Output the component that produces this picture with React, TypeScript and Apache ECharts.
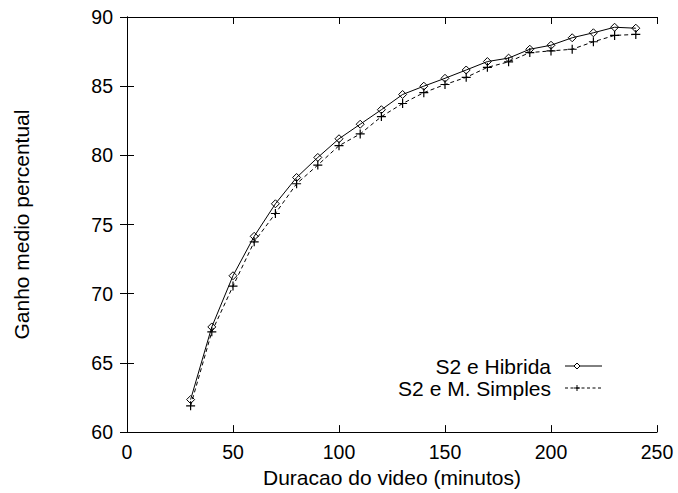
import React, { useEffect, useRef } from "react";
import * as echarts from "echarts";

const minutes = [30, 40, 50, 60, 70, 80, 90, 100, 110, 120, 130, 140, 150, 160, 170, 180, 190, 200, 210, 220, 230, 240];
const hibrida = [62.35, 67.6, 71.3, 74.15, 76.5, 78.4, 79.85, 81.2, 82.25, 83.3, 84.4, 85.0, 85.57, 86.17, 86.78, 87.03, 87.67, 87.96, 88.5, 88.86, 89.26, 89.19];
const simples = [61.9, 67.25, 70.55, 73.75, 75.8, 77.95, 79.3, 80.7, 81.55, 82.8, 83.75, 84.53, 85.12, 85.64, 86.36, 86.76, 87.43, 87.55, 87.67, 88.21, 88.67, 88.74];
const seriesNames = ["S2 e Hibrida", "S2 e M. Simples"];
const xName = "Duracao do video (minutos)";
const yName = "Ganho medio percentual";

const FONT = "Liberation Sans";
const FS = 19.5;
const NFS = 21;
const PLUS = "path://M5,0 L5,10 M0,5 L10,5";

export default function App() {
  const ref = useRef<HTMLDivElement>(null);
  useEffect(() => {
    if (!ref.current) return;
    const chart = echarts.init(ref.current, null, { renderer: "svg" });
    const axisCommon = {
      axisLine: { lineStyle: { color: "#000", width: 1 } },
      axisTick: { inside: true, length: 7, lineStyle: { color: "#000" } },
      splitLine: { show: false },
    };
    const lx1 = 565, lx2 = 602, lmx = 577, ly1 = 366, ly2 = 388;
    chart.setOption({
      animation: false,
      backgroundColor: "#fff",
      grid: { left: 127, right: 21, top: 17, bottom: 57, containLabel: false },
      xAxis: [
        {
          type: "value", min: 0, max: 250, interval: 50, position: "bottom",
          ...axisCommon,
          axisLabel: { color: "#000", fontFamily: FONT, fontSize: FS, margin: 10 },
          name: xName, nameLocation: "middle", nameGap: 29,
          nameTextStyle: { color: "#000", fontFamily: FONT, fontSize: NFS },
        },
        {
          type: "value", min: 0, max: 250, interval: 50, position: "top",
          ...axisCommon, axisLabel: { show: false },
        },
      ],
      yAxis: [
        {
          type: "value", min: 60, max: 90, interval: 5, position: "left",
          ...axisCommon,
          axisLabel: { color: "#000", fontFamily: FONT, fontSize: FS, margin: 14 },
          name: yName, nameLocation: "middle", nameGap: 95, nameRotate: 90,
          nameTextStyle: { color: "#000", fontFamily: FONT, fontSize: NFS },
        },
        {
          type: "value", min: 60, max: 90, interval: 5, position: "right",
          ...axisCommon, axisLabel: { show: false },
        },
      ],
      series: [
        {
          name: seriesNames[0], type: "line",
          data: minutes.map((m, i) => [m, hibrida[i]]),
          symbol: "diamond", symbolSize: 8, showAllSymbol: true,
          lineStyle: { color: "#000", width: 1 },
          itemStyle: { color: "none", borderColor: "#000", borderWidth: 1 },
          z: 3,
        },
        {
          name: seriesNames[1], type: "line",
          data: minutes.map((m, i) => [m, simples[i]]),
          symbol: PLUS, symbolSize: 9, showAllSymbol: true,
          lineStyle: { color: "#000", width: 1, type: [4, 3] },
          itemStyle: { color: "none", borderColor: "#000", borderWidth: 1.2 },
          z: 2,
        },
      ],
      graphic: [
        { type: "text", x: 551, y: ly1, style: { text: seriesNames[0], fill: "#000", font: `${NFS}px '${FONT}'`, align: "right", verticalAlign: "middle" } },
        { type: "text", x: 551, y: ly2, style: { text: seriesNames[1], fill: "#000", font: `${NFS}px '${FONT}'`, align: "right", verticalAlign: "middle" } },
        { type: "line", shape: { x1: lx1, y1: ly1, x2: lx2, y2: ly1 }, style: { stroke: "#000", lineWidth: 1 } },
        { type: "polygon", shape: { points: [[lmx, ly1 - 3], [lmx + 3, ly1], [lmx, ly1 + 3], [lmx - 3, ly1]] }, style: { fill: "#fff", stroke: "#000", lineWidth: 1 } },
        { type: "line", shape: { x1: lx1, y1: ly2, x2: lx2, y2: ly2 }, style: { stroke: "#000", lineWidth: 1, lineDash: [3, 2.5] } },
        { type: "line", shape: { x1: lmx - 3, y1: ly2, x2: lmx + 3, y2: ly2 }, style: { stroke: "#000", lineWidth: 1 } },
        { type: "line", shape: { x1: lmx, y1: ly2 - 3, x2: lmx, y2: ly2 + 3 }, style: { stroke: "#000", lineWidth: 1 } },
      ],
    });
    return () => chart.dispose();
  }, []);
  return <div ref={ref} style={{ width: 678, height: 493, position: "absolute", left: 0, top: 0 }} />;
}
